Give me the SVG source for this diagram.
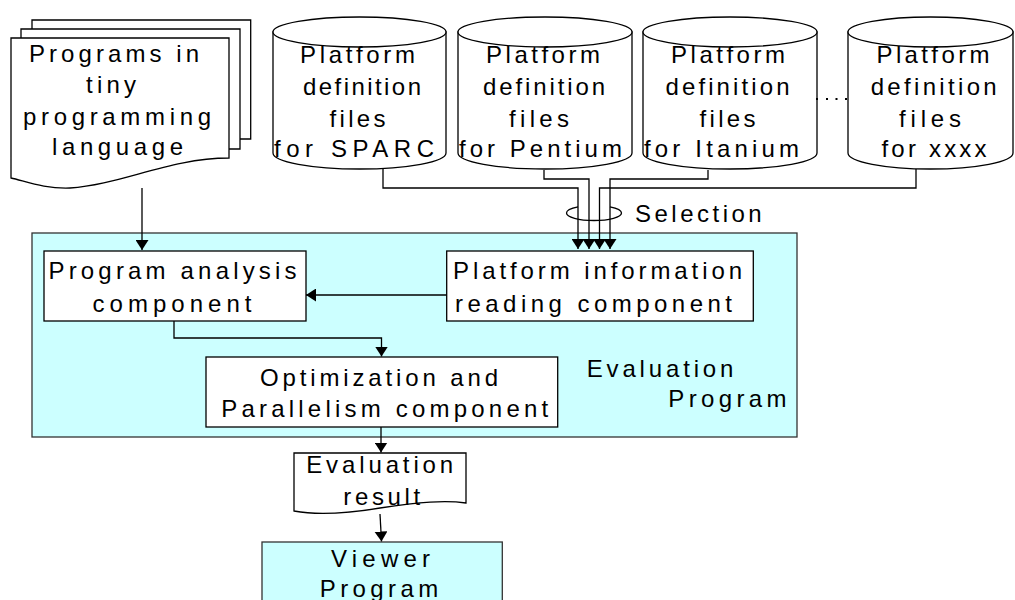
<svg xmlns="http://www.w3.org/2000/svg" width="1015" height="600" viewBox="0 0 1015 600">
<style>
  .s { fill: #ffffff; stroke: #000000; stroke-width: 1.3; }
  .c { fill: #ccffff; stroke: #333333; stroke-width: 1.3; }
  .t { font-family: "Liberation Sans", Arial, sans-serif; font-size: 24px; fill: #000000; }
  .m { text-anchor: middle; }
  .w { fill: none; stroke: #000000; stroke-width: 1.3; }
</style>
<defs>
  <marker id="ah" markerWidth="10" markerHeight="13" refX="10" refY="6.5" orient="auto" markerUnits="userSpaceOnUse">
    <path d="M0,0 L10,6.5 L0,13 Z" fill="#000000"/>
  </marker>
</defs>
<rect x="0" y="0" width="1015" height="600" fill="#ffffff"/>

<g id="programs">
  <path class="s" d="M32,20 H250.7 V139 H32 Z"/>
  <path class="s" d="M21,29 H240 V149 H21 Z"/>
  <path class="s" d="M11,38 H229 V158 C170,158 120,185 70,188 C45,189 25,181 11,178 Z"/>
  <text class="t m" x="114" y="61.7" textLength="170" lengthAdjust="spacing">Programs in</text>
  <text class="t m" x="111" y="93" textLength="50" lengthAdjust="spacing">tiny</text>
  <text class="t m" x="117" y="125" textLength="188" lengthAdjust="spacing">programming</text>
  <text class="t m" x="117.5" y="155" textLength="131" lengthAdjust="spacing">language</text>
</g>

<g id="pd-sparc">
  <path class="s" d="M273,32 V153 A86.5,16 0 0 0 446,153 V32 Z"/>
  <ellipse class="s" cx="359.5" cy="32" rx="86.5" ry="15"/>
  <text class="t m" x="357.5" y="63" textLength="115" lengthAdjust="spacing">Platform</text>
  <text class="t m" x="362" y="95" textLength="118" lengthAdjust="spacing">definition</text>
  <text class="t m" x="357.5" y="126.5" textLength="56" lengthAdjust="spacing">files</text>
  <text class="t m" x="354" y="157" textLength="160" lengthAdjust="spacing">for SPARC</text>
</g>

<g id="pd-pentium">
  <path class="s" d="M458,32 V153 A87,16 0 0 0 632,153 V32 Z"/>
  <ellipse class="s" cx="545" cy="32" rx="87" ry="15"/>
  <text class="t m" x="543" y="63" textLength="114" lengthAdjust="spacing">Platform</text>
  <text class="t m" x="544" y="95" textLength="122" lengthAdjust="spacing">definition</text>
  <text class="t m" x="539" y="126.5" textLength="60" lengthAdjust="spacing">files</text>
  <text class="t m" x="540.5" y="157" textLength="163" lengthAdjust="spacing">for Pentium</text>
</g>

<g id="pd-itanium">
  <path class="s" d="M643,32 V153 A87,16 0 0 0 817,153 V32 Z"/>
  <ellipse class="s" cx="730" cy="32" rx="87" ry="15"/>
  <text class="t m" x="728" y="63" textLength="114" lengthAdjust="spacing">Platform</text>
  <text class="t m" x="727.5" y="95" textLength="124" lengthAdjust="spacing">definition</text>
  <text class="t m" x="727.5" y="126.5" textLength="56" lengthAdjust="spacing">files</text>
  <text class="t m" x="721.5" y="157" textLength="155" lengthAdjust="spacing">for Itanium</text>
</g>

<g id="dots">
  <rect x="816" y="98" width="2" height="2" fill="#000000"/>
  <rect x="826" y="98" width="2" height="2" fill="#000000"/>
  <rect x="835.5" y="98" width="2" height="2" fill="#000000"/>
  <rect x="845" y="98" width="2" height="2" fill="#000000"/>
</g>

<g id="pd-xxxx">
  <path class="s" d="M848,32 V153 A82.5,16 0 0 0 1013,153 V32 Z"/>
  <ellipse class="s" cx="930.5" cy="32" rx="82.5" ry="15"/>
  <text class="t m" x="933" y="63" textLength="113" lengthAdjust="spacing">Platform</text>
  <text class="t m" x="933.7" y="95" textLength="126" lengthAdjust="spacing">definition</text>
  <text class="t m" x="930" y="126.5" textLength="62" lengthAdjust="spacing">files</text>
  <text class="t m" x="934" y="157" textLength="105" lengthAdjust="spacing">for xxxx</text>
</g>

<g id="evaluation-program">
  <rect class="c" x="32" y="233" width="765" height="204"/>
  <text class="t" x="586.7" y="376.7" textLength="146.7" lengthAdjust="spacing">Evaluation</text>
  <text class="t" x="668.3" y="406.7" textLength="118.3" lengthAdjust="spacing">Program</text>
</g>

<g id="program-analysis">
  <rect class="s" x="44" y="251" width="262" height="70"/>
  <text class="t m" x="172.5" y="279" textLength="248" lengthAdjust="spacing">Program analysis</text>
  <text class="t m" x="172" y="311.5" textLength="159" lengthAdjust="spacing">component</text>
</g>

<g id="platform-info">
  <rect class="s" x="446.7" y="251" width="306.6" height="70"/>
  <text class="t" x="453" y="279" textLength="289" lengthAdjust="spacing">Platform information</text>
  <text class="t" x="455" y="311.5" textLength="277" lengthAdjust="spacing">reading component</text>
</g>

<g id="optimization">
  <rect class="s" x="206" y="357" width="351.7" height="70"/>
  <text class="t m" x="379" y="385.5" textLength="238" lengthAdjust="spacing">Optimization and</text>
  <text class="t m" x="384.7" y="416.5" textLength="327" lengthAdjust="spacing">Parallelism component</text>
</g>

<g id="evaluation-result">
  <path class="s" d="M294,453 H466 V503 C445,500 420,502 380,508 C350,513 320,516 294,511 Z"/>
  <text class="t m" x="379.7" y="472.7" textLength="147" lengthAdjust="spacing">Evaluation</text>
  <text class="t m" x="381.7" y="505" textLength="76.7" lengthAdjust="spacing">result</text>
</g>

<g id="viewer">
  <rect class="c" x="262" y="542" width="240.3" height="70"/>
  <text class="t m" x="380.5" y="566.7" textLength="99" lengthAdjust="spacing">Viewer</text>
  <text class="t m" x="379" y="596.7" textLength="118.3" lengthAdjust="spacing">Program</text>
</g>

<g id="connectors">
  <path class="w" d="M142,188 V250" marker-end="url(#ah)"/>
  <path class="w" d="M383,169 V188 H578 V249" marker-end="url(#ah)"/>
  <path class="w" d="M544,170 V179 H589 V249" marker-end="url(#ah)"/>
  <path class="w" d="M708,170 V179 H610 V249" marker-end="url(#ah)"/>
  <path class="w" d="M916,169 V188 H599.5 V249" marker-end="url(#ah)"/>
  <path class="w" d="M446.7,295 H306" marker-end="url(#ah)"/>
  <path class="w" d="M174,321 V338 H381.5 V356.5" marker-end="url(#ah)"/>
  <path class="w" d="M381,427 V452.5" marker-end="url(#ah)"/>
  <path class="w" d="M380,514 L381.5,541.5" marker-end="url(#ah)"/>
</g>

<g id="selection">
  <path class="w" d="M566.5,213 A27.5,7.5 0 0 1 578,206.9"/>
  <path class="w" d="M610,206.9 A27.5,7.5 0 0 1 621.5,213"/>
  <path class="w" d="M621.5,213 A27.5,7.5 0 0 1 566.5,213"/>
  <text class="t" x="635" y="221.7" textLength="126.7" lengthAdjust="spacing">Selection</text>
</g>
</svg>
